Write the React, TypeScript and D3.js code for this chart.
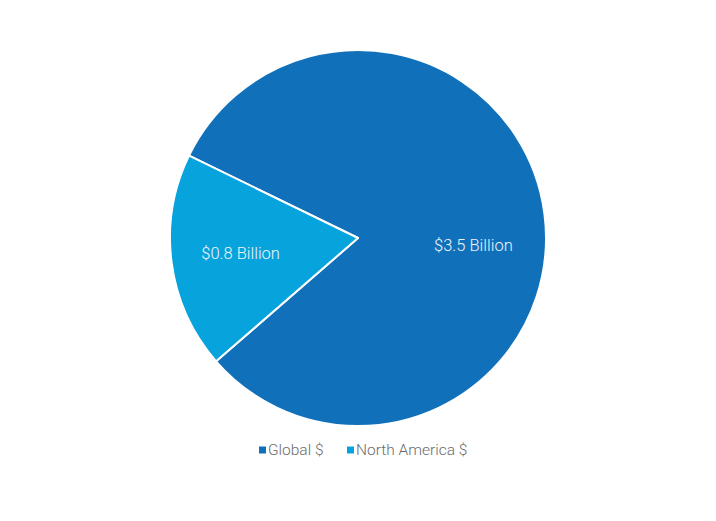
import React, { useEffect, useRef } from 'react';
import * as d3 from 'd3';

const categories = ['Global $', 'North America $'];
const values = [3.5, 0.8];
const labels = ['$3.5 Billion', '$0.8 Billion'];
const colors = ['#1170ba', '#07a3dc'];

const width = 716;
const height = 521;

export default function App() {
  const svgRef = useRef<SVGSVGElement>(null);

  useEffect(() => {
    if (!svgRef.current) return;
    const svg = d3.select(svgRef.current);
    svg.selectAll('*').remove();

    const cx = 358;
    const cy = 238;
    const radius = 188;

    const data = categories.map((c, i) => ({ name: c, value: values[i], label: labels[i], color: colors[i] }));

    // first slice begins at the upper-left edge and runs clockwise
    const pie = d3.pie<any>()
      .sort(null)
      .value(d => d.value)
      .startAngle(-64 * Math.PI / 180)
      .endAngle(296 * Math.PI / 180);

    const arc = d3.arc<any>().innerRadius(0).outerRadius(radius);
    const arcs = pie(data);

    const g = svg.append('g').attr('transform', `translate(${cx},${cy})`);

    g.selectAll('path.slice')
      .data(arcs)
      .join('path')
      .attr('class', 'slice')
      .attr('d', arc)
      .attr('fill', d => d.data.color)
      .attr('stroke', '#fff')
      .attr('stroke-width', 2)
      .attr('stroke-linejoin', 'round');

    const labelR = radius * 0.63;
    g.selectAll('text.label')
      .data(arcs)
      .join('text')
      .attr('class', 'label')
      .attr('transform', d => {
        let a = (d.startAngle + d.endAngle) / 2;
        // big slice: keep the label near the horizontal through the centre
        if (d.endAngle - d.startAngle > Math.PI) a = Math.PI / 2 + 0.06;
        const r = d.endAngle - d.startAngle > Math.PI ? radius * 0.615 : labelR;
        return `translate(${r * Math.sin(a)},${-r * Math.cos(a)})`;
      })
      .attr('text-anchor', 'middle')
      .attr('dy', '0.35em')
      .attr('fill', '#eef4fa')
      .style('font-family', 'Roboto, sans-serif')
      .style('font-weight', 300)
      .style('font-size', '16.5px')
      .text(d => d.data.label);

    // legend
    const legend = svg.append('g').attr('transform', `translate(0,450)`);
    const xs = [259, 347];
    const items = legend.selectAll('g.item')
      .data(data)
      .join('g')
      .attr('class', 'item')
      .attr('transform', (d, i) => `translate(${xs[i]},0)`);

    items.append('rect')
      .attr('x', 0)
      .attr('y', -3.5)
      .attr('width', 7)
      .attr('height', 7)
      .attr('fill', d => d.color);

    items.append('text')
      .attr('x', 9)
      .attr('dy', '0.35em')
      .attr('fill', '#6b6b6b')
      .style('font-family', 'Roboto, sans-serif')
      .style('font-weight', 300)
      .style('font-size', '15.5px')
      .text(d => d.name);
  }, []);

  return (
    <svg
      ref={svgRef}
      width={width}
      height={height}
      viewBox={`0 0 ${width} ${height}`}
      style={{ position: 'absolute', left: 0, top: 0, background: '#fff' }}
    />
  );
}
